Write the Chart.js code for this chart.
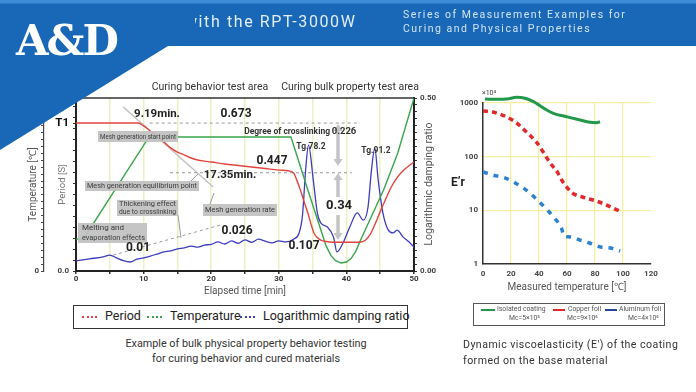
<!DOCTYPE html>
<html>
<head>
<meta charset="utf-8">
<title>RPT-3000W measurement examples</title>
<script src="https://cdn.jsdelivr.net/npm/chart.js@4.4.1/dist/chart.umd.min.js"></script>
<style>
  body { margin: 0; background: #fff; }
  #page { position: relative; width: 696px; height: 392px; overflow: hidden; background: #fff;
    font-family: Roboto, "Noto Sans", sans-serif; color: #333; }
  #band { position: absolute; left: 0; top: 0; width: 696px; height: 160px; z-index: 5;
    background: linear-gradient(#3d8cd8 0, #3d8cd8 3px, #1868b7 4px);
    clip-path: polygon(0 0, 696px 0, 696px 46px, 168px 46px, 0 150px); }
  .hd { position: absolute; z-index: 6; white-space: nowrap; }
  #logo { left: 16px; top: 16px; font: bold 42px "DejaVu Serif", "Liberation Serif", serif; color: #fff;
    letter-spacing: -2px; }
  #model { left: 195px; top: 13px; width: 190px; overflow: hidden; font-size: 16px; line-height: 18px;
    color: #e2edf9; letter-spacing: 1.6px; }
  #model span { margin-left: -10px; }
  #series { left: 403px; top: 8px; font-size: 10.5px; line-height: 14px; color: #d3e3f4; letter-spacing: 1.5px; }
  canvas { position: absolute; }
  #cvL { left: 0; top: 78px; }
  #cvR { left: 440px; top: 80px; }
  .box { position: absolute; box-sizing: border-box; }
  #legL { left: 73px; top: 305px; width: 335px; height: 24px; border: 1.5px solid #333; }
  #legR { left: 473px; top: 303px; width: 192px; height: 23px; border: 1px solid #555; }
  .smp { position: absolute; top: 10px; width: 15px; height: 0; border-top: 2px dotted; }
  .lt { position: absolute; top: 3px; font-size: 12.5px; line-height: 14px; color: #222; white-space: nowrap; }
  .ln { position: absolute; top: 5px; height: 0; border-top: 2px solid; }
  .st { position: absolute; font-size: 6.8px; line-height: 9px; color: #555; white-space: nowrap; }
  .cap { position: absolute; font-size: 10.8px; line-height: 15px; color: #333; white-space: nowrap; }
  #capL { left: 0; width: 492px; top: 336px; text-align: center; }
  #capR { left: 463px; top: 337px; font-size: 10.6px; line-height: 16px; letter-spacing: .45px; }
</style>
</head>
<body>
<div id="page">
  <canvas id="cvL" width="460" height="225"></canvas>
  <canvas id="cvR" width="230" height="215"></canvas>

  <div id="band"></div>
  <div class="hd" id="logo">A&amp;D</div>
  <div class="hd" id="model"><span>with the RPT-3000W</span></div>
  <div class="hd" id="series">Series of Measurement Examples for<br>Curing and Physical Properties</div>

  <div class="box" id="legL">
    <span class="smp" style="left:8px;border-color:#e04545"></span><span class="lt" style="left:31px">Period</span>
    <span class="smp" style="left:73px;border-color:#3aa54a"></span><span class="lt" style="left:96px">Temperature</span>
    <span class="smp" style="left:166px;border-color:#3c3cbd"></span><span class="lt" style="left:189px">Logarithmic damping ratio</span>
  </div>
  <div class="cap" id="capL">Example of bulk physical property behavior testing<br>for curing behavior and cured materials</div>

  <div class="box" id="legR">
    <span class="ln" style="left:7px;width:14px;border-color:#22984a"></span>
    <span class="st" style="left:23px;top:1px">Isolated coating</span>
    <span class="st" style="left:35px;top:10px">Mc=5×10³</span>
    <span class="ln" style="left:79px;width:12px;border-color:#e2282c"></span>
    <span class="st" style="left:94px;top:1px">Copper foil</span>
    <span class="st" style="left:93px;top:10px">Mc=9×10⁶</span>
    <span class="ln" style="left:131px;width:12px;border-color:#26439e"></span>
    <span class="st" style="left:145px;top:1px">Aluminum foil</span>
    <span class="st" style="left:154px;top:10px">Mc=4×10⁶</span>
  </div>
  <div class="cap" id="capR">Dynamic viscoelasticity (E') of the coating<br>formed on the base material</div>
</div>

<script>
// curing test: elapsed time [min] against period, temperature and damping
const periodTime  = [0, 9.2, 10, 11, 12, 13, 14, 15, 16, 17, 18, 19, 20, 22, 24, 26, 28, 30, 31.5,
                     32.2, 32.7, 33.2, 33.8, 34.3, 34.8, 35.2, 35.7, 36.2, 37, 38, 40, 42, 42.8, 43.5,
                     44.2, 45, 46, 46.6, 47.5, 48.5, 50];
const periodValue = [0.673, 0.673, 0.660, 0.637, 0.614, 0.587, 0.560, 0.541, 0.528, 0.514, 0.505, 0.500,
                     0.496, 0.487, 0.480, 0.473, 0.466, 0.459, 0.455,
                     0.446, 0.410, 0.368, 0.310, 0.264, 0.210, 0.173, 0.152, 0.141, 0.134, 0.131, 0.131,
                     0.131, 0.140, 0.165, 0.210, 0.270, 0.340, 0.380, 0.425, 0.459, 0.496];

const tempTime  = [0, 1.1, 10.8, 31.8, 34.3, 36.2, 37, 37.7, 38.4, 39.2, 40, 40.7, 41.4, 42.1, 45.5, 47.6, 50];
const tempValue = [18.5, 18.5, 77.5, 77.5, 46.8, 24, 14.5, 9, 6, 4.6, 5.2, 7.2, 11.5, 17.9, 46.8, 68.2, 100];

const dampTime  = [0, 2, 4, 5, 6, 7, 8, 9, 10, 11, 12, 13, 14, 15, 16, 17, 18, 19, 20, 21, 22, 23, 24, 25,
                   26, 27, 28, 29, 30, 31, 32.2, 33, 33.5, 34, 34.4, 35.1, 35.7, 36.2, 37.2, 38.1, 38.6,
                   39.5, 40.5, 41.6, 42.5, 43.2, 43.7, 44.2, 44.7, 45.4, 46.2, 46.9, 47.5, 48.4, 49.2, 50];
const dampValue = [0.029, 0.035, 0.041, 0.046, 0.038, 0.030, 0.026, 0.034, 0.038, 0.043, 0.049, 0.055,
                   0.058, 0.064, 0.067, 0.072, 0.069, 0.075, 0.077, 0.084, 0.078, 0.087, 0.080, 0.090,
                   0.083, 0.092, 0.086, 0.081, 0.087, 0.084, 0.092, 0.110, 0.160, 0.300, 0.364, 0.263,
                   0.168, 0.139, 0.127, 0.098, 0.055, 0.081, 0.127, 0.168, 0.147, 0.185, 0.290, 0.355,
                   0.263, 0.168, 0.118, 0.110, 0.118, 0.098, 0.085, 0.069];

const t1Period = 0.673;
const plateauPeriod = 0.447;
const t1GuideTime = [10.9, 42];
const plateauGuideTime = [13.9, 40.8];
const tangentTime = [7.0, 20.3];
const tangentPeriod = [0.746, 0.382];
const rateTime = [5.5, 21.4];
const rateDamp = [0.046, 0.133];
const elapsedLabels = [0, 10, 20, 30, 40, 50];

// dynamic viscoelasticity: measured temperature [C] against E'r (x10^4)
const coatingTemp  = [1.4, 9.8, 16.9, 24, 30, 36, 40.7, 45.5, 50.2, 59.8, 69.3, 76.4, 81.2, 83.6];
const coatingE     = [1186, 1172, 1186, 1276, 1223, 1057, 891, 740, 643, 555, 482, 437, 429, 448];
const copperTemp   = [0, 7, 17, 24, 31, 38, 43, 48, 53, 57, 64, 71, 81, 88, 99];
const copperE      = [709, 679, 548, 424, 288, 188, 122, 76, 52, 34, 21, 17.7, 14.9, 12.6, 9.3];
const aluminumTemp = [0, 7, 16, 23, 29, 35, 41, 46, 51, 56, 58, 62, 69, 76, 84, 91, 98];
const aluminumE    = [52, 45.5, 40, 32.3, 26, 19.3, 13.7, 10.1, 7.2, 4.7, 3.3, 3.2, 2.8, 2.46, 2.07, 1.99, 1.75];
const eTicks = [1, 10, 100, 1000];

function pts(xs, ys) {
  return xs.map((x, i) => ({ x: x, y: ys[i] }));
}

function text(ctx, s, x, y, font, color, align) {
  ctx.font = font;
  ctx.fillStyle = color || '#222';
  ctx.textAlign = align || 'center';
  ctx.textBaseline = 'middle';
  ctx.fillText(s, x, y);
}

function note(ctx, lines, x, y, w, h, align) {
  ctx.fillStyle = 'rgba(192,192,192,0.92)';
  ctx.fillRect(x, y, w, h);
  const lh = h / lines.length;
  lines.forEach((s, i) => {
    ctx.font = '8px Roboto';
    ctx.fillStyle = '#3a3a3a';
    ctx.textBaseline = 'middle';
    if (align === 'left') {
      ctx.textAlign = 'left';
      ctx.fillText(s, x + 4, y + lh * (i + 0.5), w - 6);
    } else {
      ctx.textAlign = 'center';
      ctx.fillText(s, x + w / 2, y + lh * (i + 0.5), w - 4);
    }
  });
}

function head(ctx, x, tipY, dir) {
  ctx.beginPath();
  ctx.moveTo(x, tipY);
  ctx.lineTo(x - 4.5, tipY + dir * 7);
  ctx.lineTo(x + 4.5, tipY + dir * 7);
  ctx.closePath();
  ctx.fill();
}

function arrow(ctx, x, y0, y1, up, down) {
  ctx.strokeStyle = '#c4c4c4';
  ctx.fillStyle = '#c4c4c4';
  ctx.lineWidth = 3.5;
  ctx.beginPath();
  ctx.moveTo(x, up ? y0 + 6 : y0);
  ctx.lineTo(x, down ? y1 - 6 : y1);
  ctx.stroke();
  if (up) head(ctx, x, y0, 1);
  if (down) head(ctx, x, y1, -1);
}

function pointer(ctx, x0, y0, x1, y1) {
  ctx.strokeStyle = '#9c9c9c';
  ctx.lineWidth = 1;
  ctx.beginPath();
  ctx.moveTo(x0, y0);
  ctx.lineTo(x1, y1);
  ctx.stroke();
}

const curingNotes = {
  id: 'curingNotes',
  afterDatasetsDraw(chart) {
    const ctx = chart.ctx;
    const a = chart.chartArea;
    const Y = (y) => y - 78; // canvas sits 78px down the page
    ctx.save();
    ctx.strokeStyle = '#333';
    ctx.lineWidth = 1.3;
    ctx.beginPath();
    ctx.moveTo(a.left, a.top);
    ctx.lineTo(a.right, a.top);
    ctx.stroke();

    arrow(ctx, 338, Y(124), Y(166), true, true);
    arrow(ctx, 338, Y(173), Y(197), true, false);
    arrow(ctx, 338, Y(215), Y(240), false, true);

    pointer(ctx, 178, Y(215), 181, Y(238));
    pointer(ctx, 191, Y(181), 198, Y(174));
    pointer(ctx, 210, Y(204), 214, Y(193));

    note(ctx, ['Mesh generation start point'], 98, Y(131), 80, 11);
    note(ctx, ['Mesh generation equilibrium point'], 85, Y(181), 114, 10);
    note(ctx, ['Thickening effect', 'due to crosslinking'], 117, Y(200), 61, 16);
    note(ctx, ['Mesh generation rate'], 203, Y(204), 74, 12);
    note(ctx, ['Melting and', 'evaporation effects'], 78, Y(223), 69, 20, 'left');

    text(ctx, 'Curing behavior test area', 210, Y(87), '10.5px Roboto', '#333');
    text(ctx, 'Curing bulk property test area', 350, Y(87), '10.5px Roboto', '#333');
    text(ctx, '9.19min.', 157, Y(114), 'bold 11.5px Roboto', '#222');
    text(ctx, '0.673', 236, Y(114), 'bold 12px Roboto', '#222');
    text(ctx, '17.35min.', 230, Y(175), 'bold 11.5px Roboto', '#222');
    text(ctx, '0.447', 272, Y(161), 'bold 12px Roboto', '#222');
    text(ctx, 'Degree of crosslinking', 330, Y(132), 'bold 8.5px Roboto', '#333', 'right');
    text(ctx, '0.226', 344, Y(132), 'bold 9.5px Roboto', '#333');
    text(ctx, 'Tg.78.2', 311, Y(147), 'bold 8.5px Roboto', '#333');
    text(ctx, 'Tg.91.2', 376, Y(151), 'bold 8.5px Roboto', '#333');
    text(ctx, '0.34', 339, Y(206), 'bold 13px Roboto', '#222');
    text(ctx, '0.107', 304, Y(246), 'bold 12px Roboto', '#222');
    text(ctx, '0.01', 138, Y(248), 'bold 12px Roboto', '#222');
    text(ctx, '0.026', 237, Y(231), 'bold 12px Roboto', '#222');

    ctx.translate(429, Y(184));
    ctx.rotate(-Math.PI / 2);
    text(ctx, 'Logarithmic damping ratio', 0, 0, '10.5px Roboto', '#555');
    ctx.restore();
  }
};

const modulusNotes = {
  id: 'modulusNotes',
  afterDraw(chart) {
    const ctx = chart.ctx;
    ctx.save();
    text(ctx, '×10⁴', 49, 13, '7px Roboto', '#444');
    text(ctx, 'E’r', 18, 103, 'bold 12px Roboto', '#222');
    ctx.restore();
  }
};

const paleGreen = '#edf0c2';
const paleYellow = '#f4ef9e';
const none = 'rgba(0,0,0,0)';
const tickFont = { family: 'Roboto', size: 8, weight: 'bold' };

new Chart(document.getElementById('cvL'), {
  type: 'line',
  data: {
    datasets: [
      { label: 'Period', data: pts(periodTime, periodValue), yAxisID: 'yP', borderColor: '#e2443f',
        borderWidth: 1.4, pointRadius: 0, cubicInterpolationMode: 'monotone' },
      { label: 'Temperature', data: pts(tempTime, tempValue), yAxisID: 'yT', borderColor: '#3aa54a',
        borderWidth: 1.4, pointRadius: 0, tension: 0 },
      { label: 'Logarithmic damping ratio', data: pts(dampTime, dampValue), yAxisID: 'yD', borderColor: '#3c3cbd',
        borderWidth: 1.3, pointRadius: 0, cubicInterpolationMode: 'monotone' },
      { data: pts(t1GuideTime, [t1Period, t1Period]), yAxisID: 'yP', borderColor: '#9a9a9a',
        borderWidth: 1, borderDash: [3, 3], pointRadius: 0 },
      { data: pts(plateauGuideTime, [plateauPeriod, plateauPeriod]), yAxisID: 'yP', borderColor: '#9a9a9a',
        borderWidth: 1, borderDash: [3, 3], pointRadius: 0 },
      { data: pts(tangentTime, tangentPeriod), yAxisID: 'yP', borderColor: '#c2c2c2',
        borderWidth: 1.5, pointRadius: 0 },
      { data: pts(rateTime, rateDamp), yAxisID: 'yD', borderColor: '#9a9a9a',
        borderWidth: 1, borderDash: [3, 3], pointRadius: 0 }
    ]
  },
  options: {
    responsive: false,
    animation: false,
    events: [],
    layout: { padding: { top: 20 } },
    plugins: { legend: { display: false }, tooltip: { enabled: false } },
    scales: {
      x: {
        type: 'linear', min: 0, max: 50,
        afterFit: (s) => { s.height = 32; },
        ticks: { stepSize: 5, autoSkip: false, maxRotation: 0, padding: 0, color: '#333', font: tickFont,
          callback: (v) => elapsedLabels.includes(v) ? String(v) : '' },
        grid: { color: (c) => (c.tick.value > 0 && c.tick.value < 50) ? paleGreen : none,
          lineWidth: 1.5, tickLength: 3, tickColor: '#333' },
        border: { color: '#222', width: 2 },
        title: { display: true, text: 'Elapsed time [min]', color: '#555', font: { family: 'Roboto', size: 10 },
          padding: { top: 0, bottom: 6 } }
      },
      yP: {
        position: 'left', weight: 0, min: 0, max: 0.787,
        afterFit: (s) => { s.width = 32; },
        afterBuildTicks: (s) => {
          const list = [];
          for (let i = 0; i <= 15; i++) list.push(i * 0.05);
          list.push(t1Period);
          s.ticks = list.sort((p, q) => p - q).map((v) => ({ value: v }));
        },
        ticks: { autoSkip: false, padding: 4,
          color: (c) => (c.tick && c.tick.value === t1Period) ? '#111' : '#444',
          font: (c) => (c.tick && c.tick.value === t1Period)
            ? { family: 'Roboto', size: 11.5, weight: 'bold' } : tickFont,
          callback: (v) => v === 0 ? '0.0' : (v === t1Period ? 'T1' : '') },
        grid: { drawOnChartArea: false, tickLength: 3, color: '#333' },
        border: { color: '#222', width: 2 },
        title: { display: true, text: 'Period [S]', color: '#777', font: { family: 'Roboto', size: 9.5 },
          padding: { top: 13, bottom: 0 } }
      },
      yT: {
        position: 'left', weight: 1, min: 0, max: 100,
        afterFit: (s) => { s.width = 44; },
        ticks: { stepSize: 4, autoSkip: false, padding: 2, color: '#444', font: tickFont,
          callback: (v) => v === 0 ? '0' : '' },
        grid: { drawOnChartArea: false, tickLength: 3, color: '#444' },
        border: { color: '#444', width: 1.2 },
        title: { display: true, text: 'Temperature [℃]', color: '#555', font: { family: 'Roboto', size: 10 },
          padding: { top: 27, bottom: 0 } }
      },
      yD: {
        position: 'right', min: 0, max: 0.5,
        afterFit: (s) => { s.width = 46; },
        ticks: { stepSize: 0.02, autoSkip: false, padding: 3, color: '#444', font: tickFont,
          callback: (v) => Math.abs(v) < 1e-9 ? '0.00' : (Math.abs(v - 0.5) < 1e-9 ? '0.50' : '') },
        grid: { drawOnChartArea: false, tickLength: 3, color: '#333' },
        border: { color: '#222', width: 2 }
      }
    }
  },
  plugins: [curingNotes]
});

new Chart(document.getElementById('cvR'), {
  type: 'line',
  data: {
    datasets: [
      { label: 'Isolated coating', data: pts(coatingTemp, coatingE), borderColor: '#22984a',
        borderWidth: 3, pointRadius: 0, cubicInterpolationMode: 'monotone', clip: false },
      { label: 'Copper foil', data: pts(copperTemp, copperE), borderColor: '#e2282c',
        borderWidth: 3.5, borderDash: [5, 4], pointRadius: 0, cubicInterpolationMode: 'monotone', clip: false },
      { label: 'Aluminum foil', data: pts(aluminumTemp, aluminumE), borderColor: '#2c82d0',
        borderWidth: 3.5, borderDash: [5, 6], pointRadius: 0, cubicInterpolationMode: 'monotone', clip: false }
    ]
  },
  options: {
    responsive: false,
    animation: false,
    events: [],
    layout: { padding: { top: 23, right: 19 } },
    plugins: { legend: { display: false }, tooltip: { enabled: false } },
    scales: {
      x: {
        type: 'linear', min: 0, max: 120,
        afterFit: (s) => { s.height = 31; },
        ticks: { stepSize: 20, autoSkip: false, maxRotation: 0, padding: 2, color: '#444', font: tickFont },
        grid: { color: (c) => (c.tick.value > 0 && c.tick.value < 120) ? paleYellow : none,
          lineWidth: 1.2, tickLength: 3, tickColor: none },
        border: { color: '#333', width: 1.5 },
        title: { display: true, text: 'Measured temperature [℃]', color: '#555',
          font: { family: 'Roboto', size: 10 }, padding: { top: 0, bottom: 2 } }
      },
      y: {
        type: 'logarithmic', min: 1, max: 1000,
        afterFit: (s) => { s.width = 43; },
        afterBuildTicks: (s) => { s.ticks = eTicks.map((v) => ({ value: v })); },
        ticks: { autoSkip: false, padding: 2, color: '#444', font: tickFont, callback: (v) => String(v) },
        grid: { color: (c) => c.tick.value > 1 ? paleYellow : none, lineWidth: 1.2, tickLength: 3, tickColor: none },
        border: { color: '#333', width: 1.5 }
      }
    }
  },
  plugins: [modulusNotes]
});
</script>
</body>
</html>
